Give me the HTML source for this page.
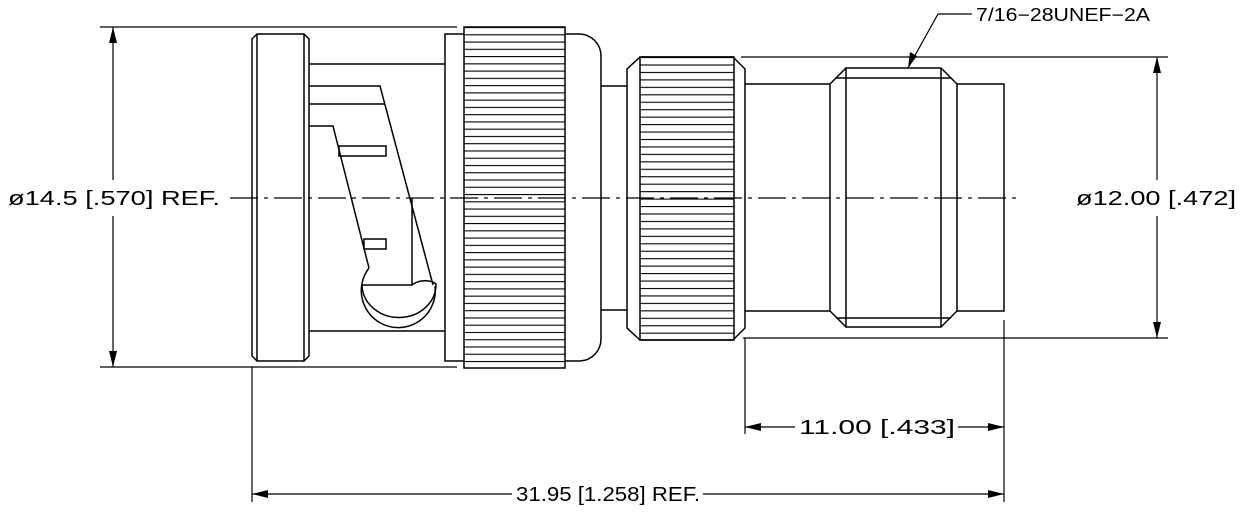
<!DOCTYPE html>
<html><head><meta charset="utf-8"><style>
html,body{margin:0;padding:0;background:#fff;}
svg{display:block}
text{font-family:"Liberation Sans",sans-serif;font-size:20px;fill:#000}
</style></head><body>
<svg width="1244" height="518" viewBox="0 0 1244 518" xmlns="http://www.w3.org/2000/svg">
<defs>
<pattern id="k1" x="0" y="27" width="10" height="7.26" patternUnits="userSpaceOnUse"><line x1="0" y1="0.5" x2="10" y2="0.5" stroke="#000" stroke-width="1.2"/></pattern>
<pattern id="k2" x="0" y="57" width="10" height="7.45" patternUnits="userSpaceOnUse"><line x1="0" y1="0.5" x2="10" y2="0.5" stroke="#000" stroke-width="1.2"/></pattern>
</defs>
<g fill="none" stroke="#000" stroke-width="1.5">
<path d="M257,34 H304 L309,39 V356 L304,361 H257 L252,356 V39 Z"/>
<line x1="257" y1="34" x2="257" y2="361"/><line x1="304" y1="34" x2="304" y2="361"/>
<line x1="309" y1="64" x2="445" y2="64"/><line x1="309" y1="331" x2="445" y2="331"/>
<path d="M464,34 H445 V361 H464"/>
<polyline points="309,86 380,86 433,285"/>
<line x1="309" y1="104" x2="385" y2="104"/>
<polyline points="309,126 333,126 369,268"/>
<rect x="339" y="146" width="47" height="10"/>
<rect x="364" y="239" width="22" height="10"/>
<line x1="412" y1="198" x2="412" y2="285"/>
<path d="M369,268 A37,37 0 1 0 435,286"/>
<path d="M362,285 H412 C418,280 430,279 436,284 A37,33 0 0 1 362,285"/>
<rect x="464" y="27" width="101" height="341" fill="url(#k1)"/>
<path d="M565,34 H580 A22,22 0 0 1 601,56 V339 A22,22 0 0 1 580,361 H565"/>
<path d="M601,86 H627 M601,310 H627"/>
<path d="M640,57 H733 L745,69 V328 L733,340 H640 L627,328 V69 Z"/>
<rect x="640" y="57" width="94" height="283" fill="url(#k2)"/>
<path d="M745,84 H830 M745,311 H830 M957,84 H1004 V311 H957"/>
<path d="M846,68 H941 L957,84 V311 L941,327 H846 L830,311 V84 Z"/>
<line x1="846" y1="68" x2="846" y2="327"/><line x1="941" y1="68" x2="941" y2="327"/>
<line x1="836" y1="78" x2="951" y2="78"/><line x1="836" y1="318" x2="951" y2="318"/>
</g>
<g fill="none" stroke="#000" stroke-width="1.2">
<line x1="230" y1="198" x2="1020" y2="198" stroke-dasharray="28,6,4,6"/>
<line x1="100" y1="27" x2="457" y2="27"/><line x1="100" y1="367" x2="457" y2="367"/>
<line x1="741" y1="57" x2="1168" y2="57"/><line x1="743" y1="338" x2="1168" y2="338"/>
<line x1="252" y1="367" x2="252" y2="502"/><line x1="1004" y1="320" x2="1004" y2="502"/>
<line x1="745" y1="338" x2="745" y2="434"/>
<line x1="113" y1="27" x2="113" y2="180"/><line x1="113" y1="216" x2="113" y2="367"/>
<line x1="1157" y1="57" x2="1157" y2="180"/><line x1="1157" y1="216" x2="1157" y2="338"/>
<line x1="745" y1="427" x2="795" y2="427"/><line x1="958" y1="427" x2="1004" y2="427"/>
<line x1="252" y1="494" x2="512" y2="494"/><line x1="703" y1="494" x2="1004" y2="494"/>
<polyline points="908,68 938,14 972,14"/>
</g>
<g fill="#000">
<path d="M113,27 l-4,16 h8 z"/><path d="M113,367 l-4,-16 h8 z"/>
<path d="M1157,57 l-4,16 h8 z"/><path d="M1157,338 l-4,-16 h8 z"/>
<path d="M745,427 l16,-4 v8 z"/><path d="M1004,427 l-16,-4 v8 z"/>
<path d="M252,494 l16,-4 v8 z"/><path d="M1004,494 l-16,-4 v8 z"/>
<path d="M908,68 l2,-16 l7,4 z"/>
</g>
<text x="8" y="205" textLength="212" lengthAdjust="spacingAndGlyphs">ø14.5 [.570] REF.</text>
<text x="1076" y="205" textLength="160" lengthAdjust="spacingAndGlyphs">ø12.00 [.472]</text>
<text x="976" y="21" textLength="174" lengthAdjust="spacingAndGlyphs" style="font-size:18px">7/16−28UNEF−2A</text>
<text x="799" y="434" textLength="156" lengthAdjust="spacingAndGlyphs">11.00 [.433]</text>
<text x="516" y="501" textLength="184" lengthAdjust="spacingAndGlyphs">31.95 [1.258] REF.</text>
</svg>
</body></html>
